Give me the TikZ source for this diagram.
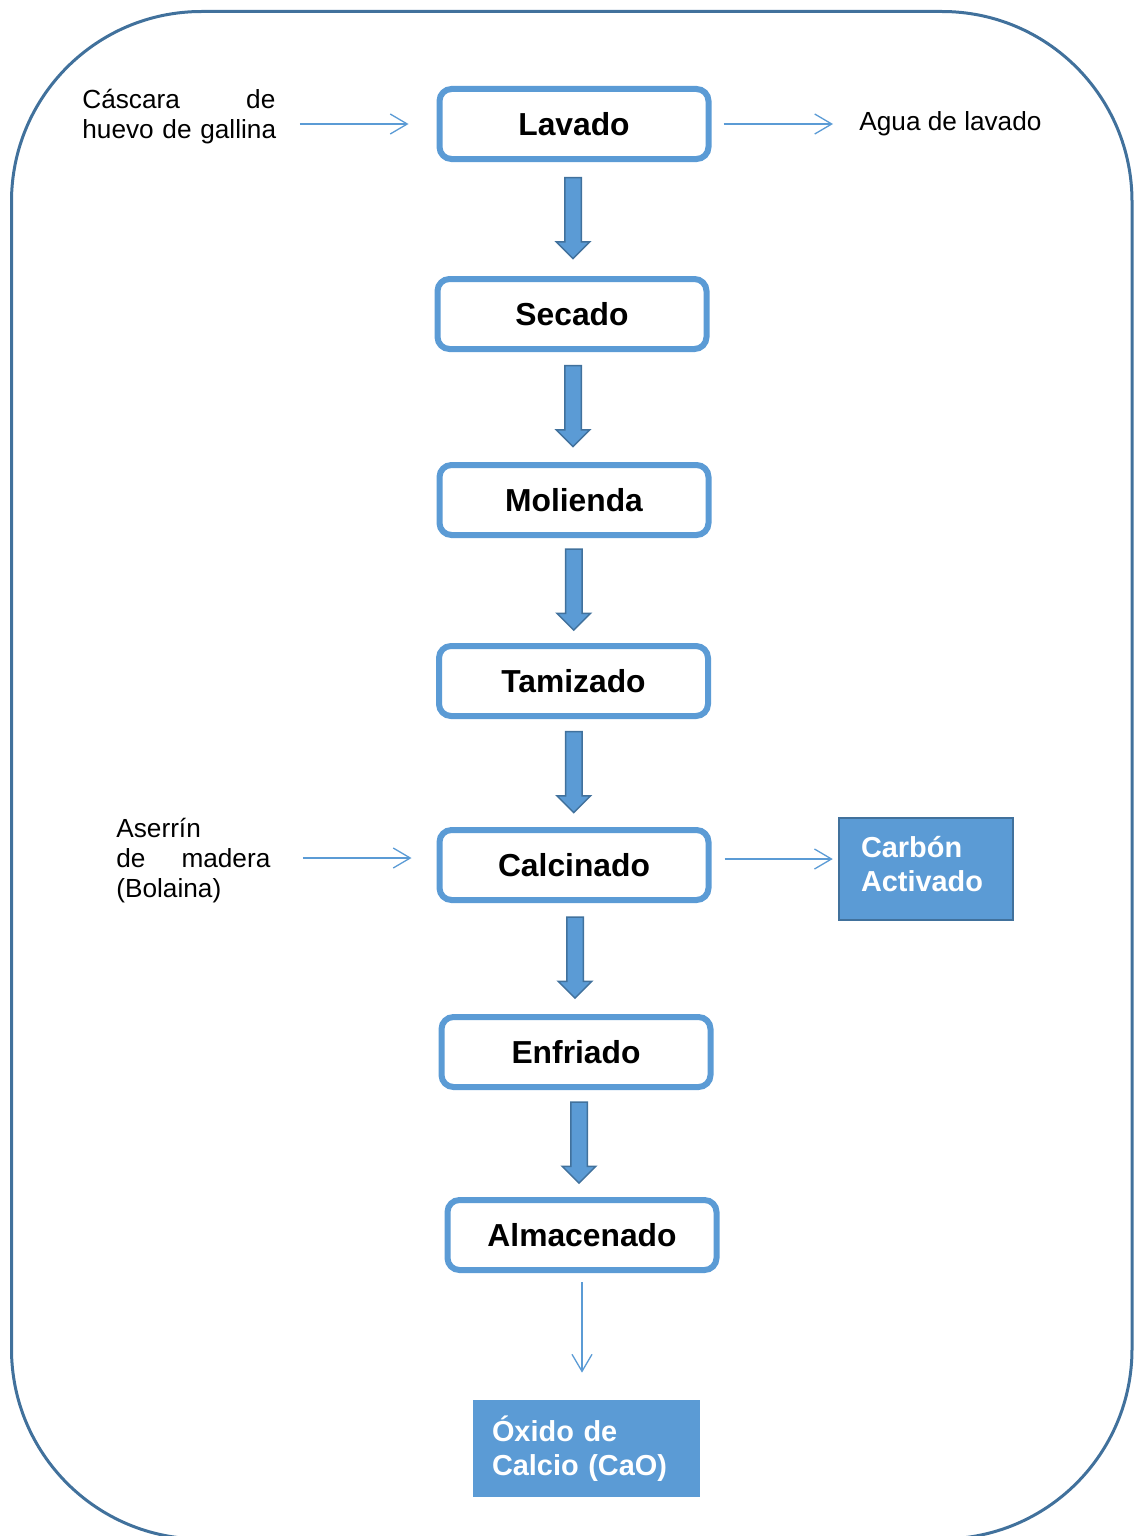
\documentclass[tikz,border=0pt]{standalone}
\usepackage{fontspec}
\setmainfont{Liberation Sans}
\usetikzlibrary{arrows.meta,shapes.arrows,calc}
\definecolor{BoxClr}{HTML}{5B9BD5}
\definecolor{EdgeClr}{HTML}{41719C}

\tikzset{
  paso/.style={draw=BoxClr,line width=3pt,rounded corners=6pt,fill=white,
    minimum width=134.5pt,minimum height=35pt,inner sep=0pt,
    font=\fontsize{15.9}{19}\selectfont\bfseries},
  producto/.style={fill=BoxClr,text=white,align=left,
    font=\fontsize{14.45}{17}\selectfont\bfseries},
  entrada/.style={inner sep=0pt,align=left,font=\fontsize{13.1}{15}\selectfont},
  flujo/.style={draw=BoxClr,line width=0.65pt,-{Straight Barb[length=8.5pt,width=10pt]}},
  bajada/.style={single arrow,draw=EdgeClr,fill=BoxClr,line width=0.75pt,
    shape border rotate=270,minimum height=40.5pt,minimum width=16pt,
    single arrow head extend=4.25pt,inner sep=3.75pt,yshift=2.5pt}
}

\begin{document}
\begin{tikzpicture}[x=0.5pt,y=-0.5pt]
\useasboundingbox (0,0) rectangle (1134,1536);
\draw[EdgeClr,line width=1.5pt,rounded corners=95pt] (11.5,11.5) rectangle (1132,1539);

% etapas del proceso
\node[paso] (lav) at (574,124) {Lavado};
\node[paso] (sec) at (572,314) {Secado};
\node[paso] (mol) at (574,500) {Molienda};
\node[paso] (tam) at (573.5,681) {Tamizado};
\node[paso] (cal) at (574,865) {Calcinado};
\node[paso] (enf) at (576,1052) {Enfriado};
\node[paso] (alm) at (582,1235) {Almacenado};

\foreach \a/\b in {lav/sec,sec/mol,mol/tam,tam/cal,cal/enf,enf/alm}
  \path (\a.south) -- node[bajada] {} (\b.north);

% entradas y salidas
\node[entrada,text width=96.5pt,anchor=base west] (cas) at (82,108.5)
  {C\'ascara\hfill de\\\mbox{huevo de gallina}};
\node[entrada,anchor=base west] (agua) at (859,131) {Agua de lavado};
\node[entrada,text width=77pt,anchor=base west] (ase) at (116,837.5)
  {Aserr\'in\\de\hfill madera\\(Bolaina)};
\node[producto,draw=EdgeClr,line width=1.25pt,text width=65pt,inner xsep=11pt,
  minimum height=51pt,text depth=22pt] (car) at (926,869) {Carb\'on\\Activado};
\node[producto,text width=94.5pt,inner xsep=9.5pt,minimum height=48.5pt]
  (oxi) at (586.5,1448.5) {\'Oxido de\\Calcio (CaO)};

\draw[flujo,shorten <=12pt,shorten >=14pt] (cas.east |- lav.west) -- (lav.west);
\draw[flujo,shorten <=6pt,shorten >=13pt] (lav.east) -- (agua.west |- lav.east);
\draw[flujo,shorten <=16pt,shorten >=12.5pt] ($(ase.east |- cal.west)+(0,-7)$) -- ($(cal.west)+(0,-7)$);
\draw[flujo,shorten <=6.5pt,shorten >=2.5pt] ($(cal.east)+(0,-6)$) -- ($(car.west |- cal.east)+(0,-6)$);
\draw[flujo,shorten <=4.5pt,shorten >=13.5pt] (alm.south) -- (alm.south |- oxi.north);
\end{tikzpicture}
\end{document}
